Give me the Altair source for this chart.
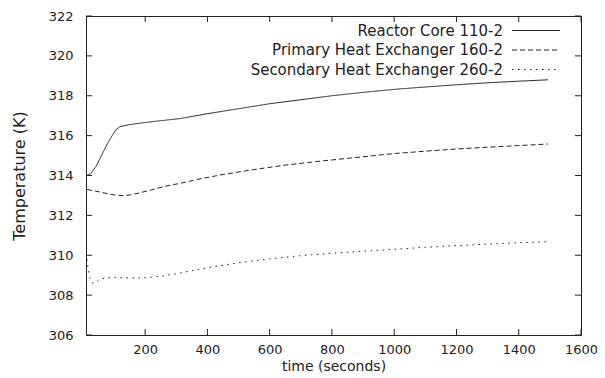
import altair as alt
import pandas as pd

# ---- data ----
names = ["Reactor Core 110-2", "Primary Heat Exchanger 160-2", "Secondary Heat Exchanger 260-2"]

t_reactor = [13, 25, 42, 58, 74, 88, 100, 106, 120, 148, 196, 250, 310, 400, 500, 600, 700,
             800, 900, 1000, 1100, 1200, 1300, 1400, 1494]
v_reactor = [314.0, 314.1, 314.45, 314.95, 315.45, 315.85, 316.15, 316.3, 316.45, 316.55, 316.65,
             316.75, 316.85, 317.1, 317.35, 317.6, 317.8, 318.0, 318.17, 318.32, 318.44, 318.55,
             318.65, 318.73, 318.8]

t_primary = [13, 40, 70, 100, 125, 150, 180, 220, 270, 310, 373, 450, 550, 650, 750, 850, 1000,
             1100, 1200, 1300, 1400, 1494]
v_primary = [313.3, 313.22, 313.12, 313.03, 312.99, 313.02, 313.12, 313.28, 313.48, 313.6, 313.82,
             314.05, 314.3, 314.52, 314.7, 314.86, 315.1, 315.22, 315.33, 315.42, 315.5, 315.58]

t_secondary = [13, 17, 22, 30, 38, 50, 70, 100, 150, 200, 250, 310, 400, 500, 600, 700, 800, 900,
               1003, 1100, 1200, 1300, 1400, 1494]
v_secondary = [309.8, 309.3, 308.9, 308.62, 308.6, 308.75, 308.86, 308.88, 308.86, 308.87, 308.95,
               309.1, 309.38, 309.62, 309.82, 309.98, 310.1, 310.2, 310.3, 310.4, 310.48, 310.56,
               310.63, 310.68]

x_ticks = [200, 400, 600, 800, 1000, 1200, 1400, 1600]
y_ticks = [306, 308, 310, 312, 314, 316, 318, 320, 322]

rows = []
for name, ts, vs in zip(names, [t_reactor, t_primary, t_secondary], [v_reactor, v_primary, v_secondary]):
    for t, v in zip(ts, vs):
        rows.append({"series": name, "t": t, "temp": v})
df = pd.DataFrame(rows)
xt_df = pd.DataFrame({"t": x_ticks})
yt_df = pd.DataFrame({"temp": y_ticks})

W, H, TICK = 495, 319, 6
FONT = "DejaVu Sans"
TXT = "#222222"
INK = "#222222"

xscale = alt.Scale(domain=[10, 1600], nice=False, zero=False)
yscale = alt.Scale(domain=[306, 322], nice=False, zero=False)

x_axis = alt.Axis(orient="bottom", values=x_ticks, ticks=False, domain=False, grid=False,
                  format="d", labelFont=FONT, labelFontSize=13, labelColor=TXT,
                  labelPadding=8, labelFlush=False, labelOverlap=False,
                  title="time (seconds)", titleFont=FONT,
                  titleFontSize=14, titleFontWeight="normal", titleColor=TXT,
                  titlePadding=3)
y_axis = alt.Axis(orient="left", values=y_ticks, ticks=False, domain=False, grid=False,
                  format="d", labelFont=FONT, labelFontSize=13, labelColor=TXT,
                  labelPadding=13, labelFlush=False, labelOverlap=False,
                  title="Temperature (K)", titleFont=FONT,
                  titleFontSize=16, titleFontWeight="normal", titleColor=TXT,
                  titlePadding=21)

dash_scale = alt.Scale(domain=names, range=[[1, 0], [5, 3], [1.5, 4.5]])

lines = alt.Chart(df).mark_line(strokeWidth=1, color=INK).encode(
    x=alt.X("t:Q", scale=xscale, axis=x_axis),
    y=alt.Y("temp:Q", scale=yscale, axis=y_axis),
    strokeDash=alt.StrokeDash("series:N", scale=dash_scale, sort=names,
                              legend=alt.Legend(title=None, orient="none", legendX=442.5, legendY=7,
                                                symbolType="M-4,0H4", symbolSize=144,
                                                symbolStrokeWidth=1, symbolStrokeColor=INK,
                                                labelAlign="right", labelOffset={"expr": "-40.5"},
                                                labelFont=FONT, labelFontSize=15, labelColor=TXT,
                                                labelLimit=400, rowPadding=3.5, padding=0)),
    detail="series:N",
)

# inward (gnuplot-style) ticks on all four sides, placed through the shared scales
x_ticks_bottom = alt.Chart(xt_df).mark_rule(color=INK, strokeWidth=1).encode(
    x=alt.X("t:Q", scale=xscale, axis=x_axis), y=alt.value(H - TICK), y2=alt.value(H))
x_ticks_top = alt.Chart(xt_df).mark_rule(color=INK, strokeWidth=1).encode(
    x=alt.X("t:Q", scale=xscale, axis=x_axis), y=alt.value(0), y2=alt.value(TICK))
y_ticks_left = alt.Chart(yt_df).mark_rule(color=INK, strokeWidth=1).encode(
    y=alt.Y("temp:Q", scale=yscale, axis=y_axis), x=alt.value(0), x2=alt.value(TICK))
y_ticks_right = alt.Chart(yt_df).mark_rule(color=INK, strokeWidth=1).encode(
    y=alt.Y("temp:Q", scale=yscale, axis=y_axis), x=alt.value(W - TICK), x2=alt.value(W))

chart = alt.layer(lines, x_ticks_bottom, x_ticks_top, y_ticks_left, y_ticks_right).properties(
    width=W, height=H,
    padding={"left": 78, "top": 8, "right": 16, "bottom": 40},
    autosize=alt.AutoSizeParams(type="none"),
    background="white",
).configure_view(stroke=INK, strokeWidth=1)

chart.save("out.html", embed_options={"renderer": "svg", "actions": False})
